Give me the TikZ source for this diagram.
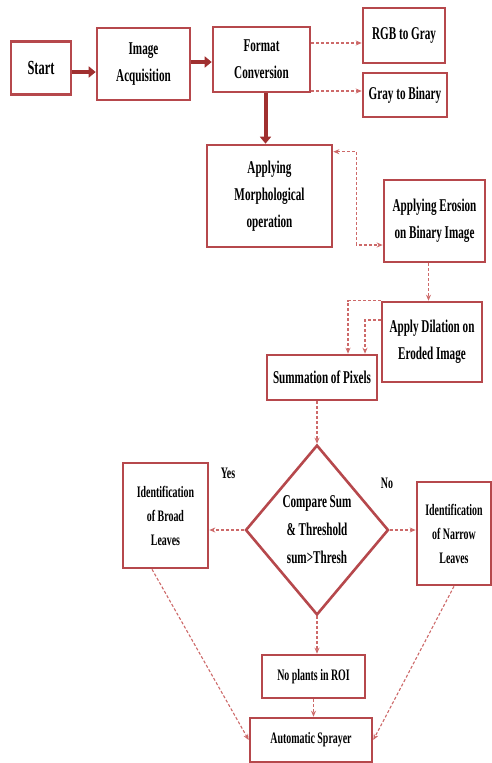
\documentclass[tikz,border=0pt]{standalone}
\usepackage{fontspec}
\setmainfont{Liberation Serif}[FakeStretch=0.62]
\usepackage{tikz}
\usetikzlibrary{shapes.geometric,arrows.meta}
\definecolor{boxred}{RGB}{182,72,76}
\definecolor{dashred}{RGB}{205,105,105}
\definecolor{fatred}{RGB}{160,48,48}

\begin{document}
\begin{tikzpicture}[x=1pt,y=-1pt,
  blk/.style={draw=boxred,line width=2.6pt,fill=white,align=center,inner sep=1pt,font=\bfseries\fontsize{18}{27}\selectfont},
  blksm/.style={blk,font=\bfseries\fontsize{16}{24}\selectfont},
  lbl/.style={font=\bfseries\fontsize{16}{20}\selectfont},
  fat/.style={draw=fatred,line width=4pt,-{Triangle[length=7pt,width=11pt]}},
  dsh/.style={draw=dashred,line width=1.1pt,dash pattern=on 3pt off 2pt,-{Stealth[length=6pt,width=5pt]}},
  tip/.tip={Stealth[length=6pt,width=5pt]}]
\useasboundingbox (0,0) rectangle (492,763);
\node[blk,font=\bfseries\fontsize{20}{27}\selectfont,minimum width=60pt,minimum height=53pt] (start) at (41,68) {Start};
\node[blk,minimum width=93pt,minimum height=72pt] (acq) at (143.5,64) {Image\\Acquisition};
\node[blk,minimum width=97pt,minimum height=65pt] (conv) at (261.5,59.5) {Format\\Conversion};
\node[blk,minimum width=82pt,minimum height=55pt] (rgb) at (404,35.5) {RGB to Gray};
\node[blk,minimum width=84pt,minimum height=44pt] (bin) at (405,95) {Gray to Binary};
\node[blk,minimum width=125pt,minimum height=102pt] (morph) at (269.5,196) {Applying\\Morphological\\operation};
\node[blk,minimum width=101pt,minimum height=82pt] (erosion) at (434.5,221) {Applying Erosion\\on Binary Image};
\node[blk,minimum width=100pt,minimum height=80pt] (dilation) at (432,342) {Apply Dilation on\\Eroded Image};
\node[blk,minimum width=110pt,minimum height=45pt] (summ) at (322,377.5) {Summation of Pixels};
\node[draw=boxred,line width=2.6pt,diamond,minimum width=143pt,minimum height=170pt,inner sep=0pt,align=center,font=\bfseries\fontsize{18}{28}\selectfont] (dec) at (317,530) {Compare Sum\\\& Threshold\\sum>Thresh};
\node[blksm,minimum width=85pt,minimum height=105pt] (broad) at (165.5,515.5) {Identification\\of Broad\\Leaves};
\node[blksm,minimum width=74pt,minimum height=103pt] (narrow) at (454,533.5) {Identification\\of Narrow\\Leaves};
\node[blksm,minimum width=103pt,minimum height=43pt] (noroi) at (313.5,676.5) {No plants in ROI};
\node[blksm,minimum width=122pt,minimum height=44pt] (sprayer) at (311,740) {Automatic Sprayer};
\node[lbl] (yes) at (228,473) {Yes};
\node[lbl] (no) at (387,483) {No};

\draw[fat] (start.east |- 0,72) -- (acq.west |- 0,72);
\draw[fat] (acq.east |- 0,62) -- (conv.west |- 0,62);
\draw[fat] ([xshift=4pt]conv.south) -- ([xshift=4pt]conv.south |- morph.north);
\draw[dsh] ([yshift=-7.5pt]conv.east |- rgb.west) -- ([yshift=-7.5pt]rgb.west);
\draw[dsh] ([yshift=4pt]conv.east |- bin.west) -- ([yshift=4pt]bin.west);
\draw[dsh,tip-tip] ([yshift=-8pt]morph.north east) -- ++(23,0) |- ([yshift=-24pt]erosion.west);
\draw[dsh] ([xshift=-6pt]erosion.south) -- ([xshift=-6pt]erosion.south |- dilation.north);
\draw[dsh] (dilation.north west) -| ([xshift=26pt]summ.north);
\draw[dsh] ([yshift=22pt]dilation.west) -| ([xshift=43pt]summ.north);
\draw[dsh] (dec.north |- summ.south) -- (dec.north);
\draw[dsh] (dec.west) -- (dec.west -| broad.east);
\draw[dsh] (dec.east) -- (dec.east -| narrow.west);
\draw[dsh] (dec.south) -- (dec.south |- noroi.north);
\draw[dsh] (noroi.south) -- (noroi.south |- sprayer.north);
\draw[dsh] ([xshift=-13.5pt]broad.south) -- (sprayer.west);
\draw[dsh] (narrow.south) -- (sprayer.east);
\end{tikzpicture}
\end{document}
